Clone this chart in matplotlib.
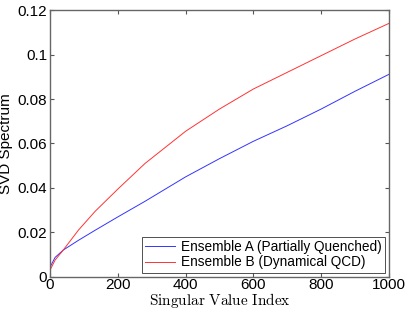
import matplotlib
matplotlib.use('Agg')
from matplotlib import pyplot as plt

plt.rcParams['font.family'] = ['Liberation Sans', 'DejaVu Sans']
plt.rcParams['mathtext.fontset'] = 'cm'

# values
index_a = [0, 15, 39, 84, 133, 200, 280, 400, 500, 600, 700, 800, 900, 1000]
ensemble_a = [0.0044, 0.0088, 0.0121, 0.0165, 0.021, 0.027, 0.034, 0.045,
              0.0532, 0.061, 0.068, 0.0755, 0.0835, 0.0911]
index_b = [0, 15, 39, 84, 133, 200, 280, 400, 500, 600, 700, 800, 900, 1000]
ensemble_b = [0.0031, 0.0076, 0.0121, 0.0211, 0.0295, 0.0395, 0.051, 0.0655,
              0.0755, 0.0845, 0.092, 0.0995, 0.107, 0.114]

xticks = [0, 200, 400, 600, 800, 1000]
yticks = [0, 0.02, 0.04, 0.06, 0.08, 0.1, 0.12]
yticklabels = ['0', '0.02', '0.04', '0.06', '0.08', '0.1', '0.12']

fig = plt.figure(figsize=(4.07, 3.10), dpi=100)
ax = fig.add_axes([0.1229, 0.1065, 0.8329, 0.8612])

ax.plot(index_a, ensemble_a, color='#3333ff', lw=0.7, label='Ensemble A (Partially Quenched)')
ax.plot(index_b, ensemble_b, color='#ff3333', lw=0.7, label='Ensemble B (Dynamical QCD)')

ax.set_xlim(0, 1000)
ax.set_ylim(0, 0.12)
ax.set_xticks(xticks)
ax.set_yticks(yticks)
ax.set_yticklabels(yticklabels)
ax.tick_params(direction='in', top=True, right=True, labelsize=11, length=3,
               color='#555555', pad=2)
ax.tick_params(axis='x', pad=1)
for s in ax.spines.values():
    s.set_color('#666666')
    s.set_linewidth(1.0)

ax.set_ylabel('SVD Spectrum', fontsize=11, labelpad=3)
ax.set_xlabel(r'$\mathrm{Singular\ Value\ Index}$', fontsize=11)
ax.xaxis.set_label_coords(0.5, -0.088)
ax.xaxis.label.set_va('center')

leg = ax.legend(loc='lower right', fontsize=9.8, frameon=True, fancybox=False,
                borderpad=0.25, labelspacing=0.1, handlelength=2.2, handletextpad=0.4,
                borderaxespad=0.3)
leg.get_frame().set_edgecolor('black')
leg.get_frame().set_linewidth(0.6)

plt.savefig('out.png', dpi=100)
